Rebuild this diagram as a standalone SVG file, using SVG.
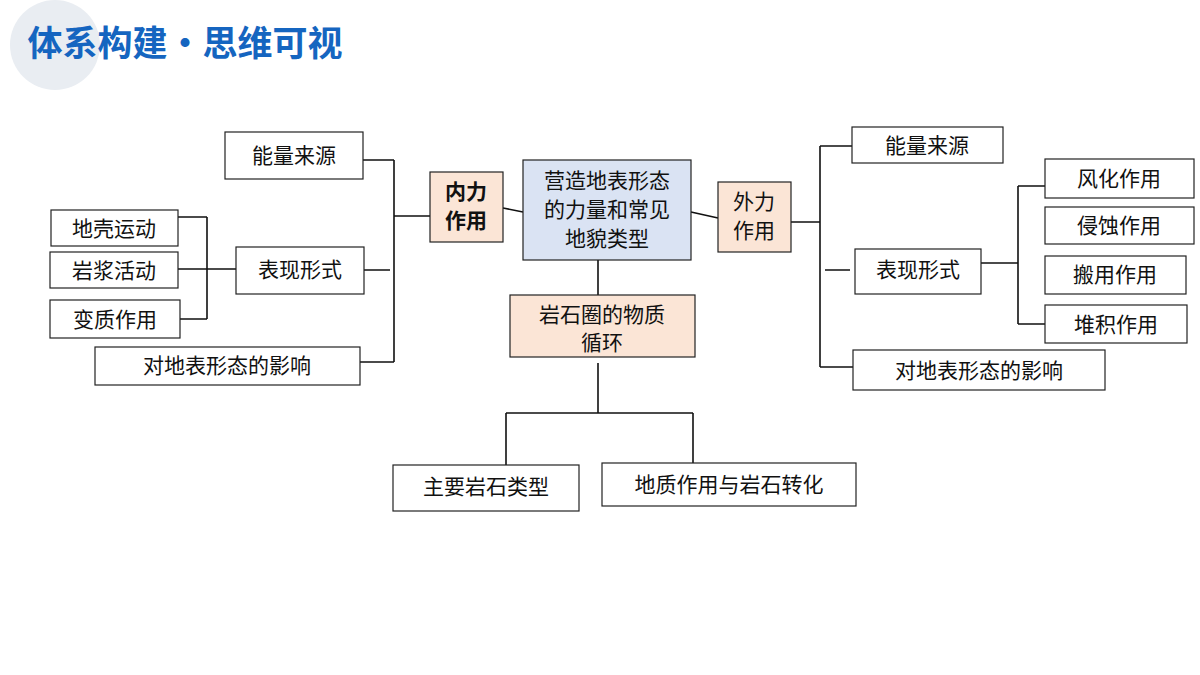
<svg xmlns="http://www.w3.org/2000/svg" width="1200" height="675" viewBox="0 0 1200 675">
<style>
.b{fill:#fff;stroke:#222;stroke-width:1.2}
.o{fill:#fbe5d6;stroke:#222;stroke-width:1.2}
.c{fill:#dae3f3;stroke:#222;stroke-width:1.2}
text{font-family:"Noto Sans CJK SC","Noto Sans",sans-serif;font-size:21px;fill:#111;text-anchor:middle}
.l{fill:none;stroke:#111;stroke-width:1.6}
</style>
<rect width="1200" height="675" fill="#fff"/>
<circle cx="55" cy="45" r="45" fill="#e9edf2"/>
<text x="185" y="56" style="font-size:35px;font-weight:bold;fill:#1565c0;text-anchor:middle">体系构建·思维可视</text>
<g id="connectors" class="l">
<path d="M363 160H394M394 160V362M390 270H364M360 362H394M394 216H430"/>
<path d="M178 217H207M178 269H207M180 319H207M207 217V319M207 269H236"/>
<path d="M503 208L523 212M691 212L718 218"/>
<path d="M791 222H820M820 146V367M852 146H820M825 270H850M853 367H820"/>
<path d="M981 263H1018M1018 186V324M1045 186H1018M1045 324H1018"/>
<path d="M598 260V295M598 363V413M506 413H693M506 413V465M693 413V465"/>
</g>
<g id="center"><rect class="c" x="523" y="160" width="168" height="100"/><text x="607" y="188">营造地表形态</text><text x="607" y="217">的力量和常见</text><text x="607" y="246">地貌类型</text></g>
<g id="neili"><rect class="o" x="430" y="172" width="73" height="70"/><text x="466" y="199" style="font-weight:bold">内力</text><text x="466" y="228" style="font-weight:bold">作用</text></g>
<g id="waili"><rect class="o" x="718" y="182" width="73" height="70"/><text x="754" y="209">外力</text><text x="754" y="238">作用</text></g>
<g id="yanshi"><rect class="o" x="510" y="295" width="185" height="62"/><text x="602" y="322">岩石圈的物质</text><text x="602" y="350">循环</text></g>
<g id="l1"><rect class="b" x="225" y="132" width="138" height="47"/><text x="294" y="163">能量来源</text></g>
<g id="l2"><rect class="b" x="236" y="247" width="128" height="47"/><text x="300" y="277">表现形式</text></g>
<g id="l3"><rect class="b" x="95" y="347" width="265" height="38"/><text x="227" y="373">对地表形态的影响</text></g>
<g id="l4"><rect class="b" x="51" y="210" width="127" height="36"/><text x="114" y="236">地壳运动</text></g>
<g id="l5"><rect class="b" x="50" y="252" width="128" height="36"/><text x="114" y="278">岩浆活动</text></g>
<g id="l6"><rect class="b" x="50" y="300" width="130" height="38"/><text x="115" y="327">变质作用</text></g>
<g id="r1"><rect class="b" x="852" y="127" width="151" height="36"/><text x="927" y="153">能量来源</text></g>
<g id="r2"><rect class="b" x="855" y="249" width="126" height="45"/><text x="918" y="277">表现形式</text></g>
<g id="r3"><rect class="b" x="853" y="350" width="252" height="40"/><text x="979" y="378">对地表形态的影响</text></g>
<g id="r4"><rect class="b" x="1045" y="159" width="149" height="39"/><text x="1119" y="186">风化作用</text></g>
<g id="r5"><rect class="b" x="1045" y="207" width="149" height="37"/><text x="1119" y="233">侵蚀作用</text></g>
<g id="r6"><rect class="b" x="1045" y="256" width="141" height="38"/><text x="1115" y="282">搬用作用</text></g>
<g id="r7"><rect class="b" x="1045" y="305" width="142" height="38"/><text x="1116" y="332">堆积作用</text></g>
<g id="b1"><rect class="b" x="393" y="465" width="186" height="46"/><text x="486" y="494">主要岩石类型</text></g>
<g id="b2"><rect class="b" x="602" y="463" width="254" height="43"/><text x="729" y="492">地质作用与岩石转化</text></g>
</svg>
